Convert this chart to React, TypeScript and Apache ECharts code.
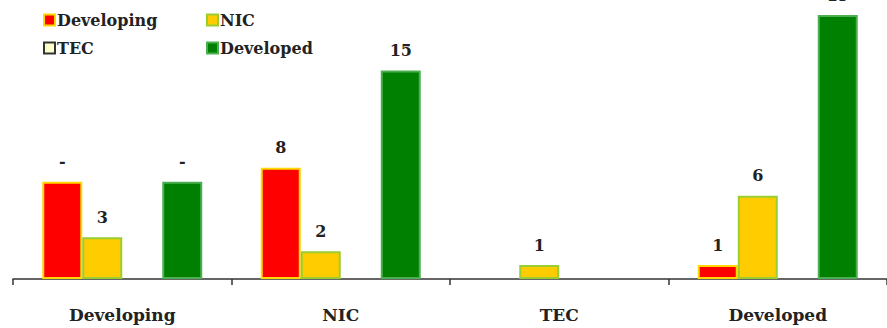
import React, { useEffect, useRef } from "react";
import * as echarts from "echarts";

const categories = ["Developing", "NIC", "TEC", "Developed"];
const seriesNames = ["Developing", "NIC", "TEC", "Developed"];
const developingValues = [7, 8, 0, 1];
const nicValues = [3, 2, 1, 6];
const tecValues = [0, 0, 0, 0];
const developedValues = [7, 15, 0, 19];
const developingLabels = ["-", "8", "", "1"];
const nicLabels = ["3", "2", "1", "6"];
const tecLabels = ["", "", "", ""];
const developedLabels = ["-", "15", "", "19"];

const FONT = "DejaVu Serif";

export default function App() {
  const ref = useRef<HTMLDivElement>(null);
  useEffect(() => {
    if (!ref.current) return;
    const chart = echarts.init(ref.current, undefined, { renderer: "svg" });
    const styles = [
      { color: "#FF0000", borderColor: "#FFD800" },
      { color: "#FFCC00", borderColor: "#9ACD32" },
      { color: "#FFFFCC", borderColor: "#333333" },
      { color: "#008000", borderColor: "#4CAF50" },
    ];
    const values = [developingValues, nicValues, tecValues, developedValues];
    const labels = [developingLabels, nicLabels, tecLabels, developedLabels];
    const legendPos = [
      { left: 43, top: 12 },
      { left: 206, top: 12 },
      { left: 43, top: 40 },
      { left: 206, top: 40 },
    ];
    chart.setOption({
      animation: false,
      legend: seriesNames.map((name, i) => ({
        data: [
          {
            name,
            itemStyle: { ...styles[i], borderWidth: 2 },
          },
        ],
        left: legendPos[i].left,
        top: legendPos[i].top,
        padding: 0,
        itemWidth: 11,
        itemHeight: 11,
        itemGap: 0,
        icon: "rect",
        textStyle: {
          fontFamily: FONT,
          fontWeight: "bold",
          fontSize: 16,
          color: "#222",
          padding: [0, 0, 0, -3],
        },
      })),
      grid: { left: 13, right: -6, top: 15, bottom: 49, containLabel: false },
      xAxis: {
        type: "category",
        data: categories,
        axisLine: { lineStyle: { color: "#333", width: 1.5 } },
        axisTick: { show: true, length: 6, lineStyle: { color: "#333", width: 1.5 } },
        axisLabel: {
          margin: 27,
          fontFamily: FONT,
          fontWeight: "bold",
          fontSize: 17,
          color: "#222",
        },
      },
      yAxis: {
        type: "value",
        min: 0,
        max: 19,
        show: false,
        splitLine: { show: false },
      },
      series: seriesNames.map((name, i) => ({
        name,
        type: "bar",
        barWidth: 40,
        barGap: "0%",
        data: values[i].map((v) => ({
          value: v,
          itemStyle: v === 0 ? { borderWidth: 0 } : undefined,
        })),
        itemStyle: { ...styles[i], borderWidth: 2 },
        label: {
          show: true,
          position: "top",
          distance: 12,
          fontFamily: FONT,
          fontWeight: "bold",
          fontSize: 16,
          color: "#222",
          formatter: (p: any) => labels[i][p.dataIndex],
        },
      })),
    });
    return () => chart.dispose();
  }, []);
  return (
    <div
      ref={ref}
      style={{ position: "absolute", left: 0, top: 0, width: 887, height: 328 }}
    />
  );
}
